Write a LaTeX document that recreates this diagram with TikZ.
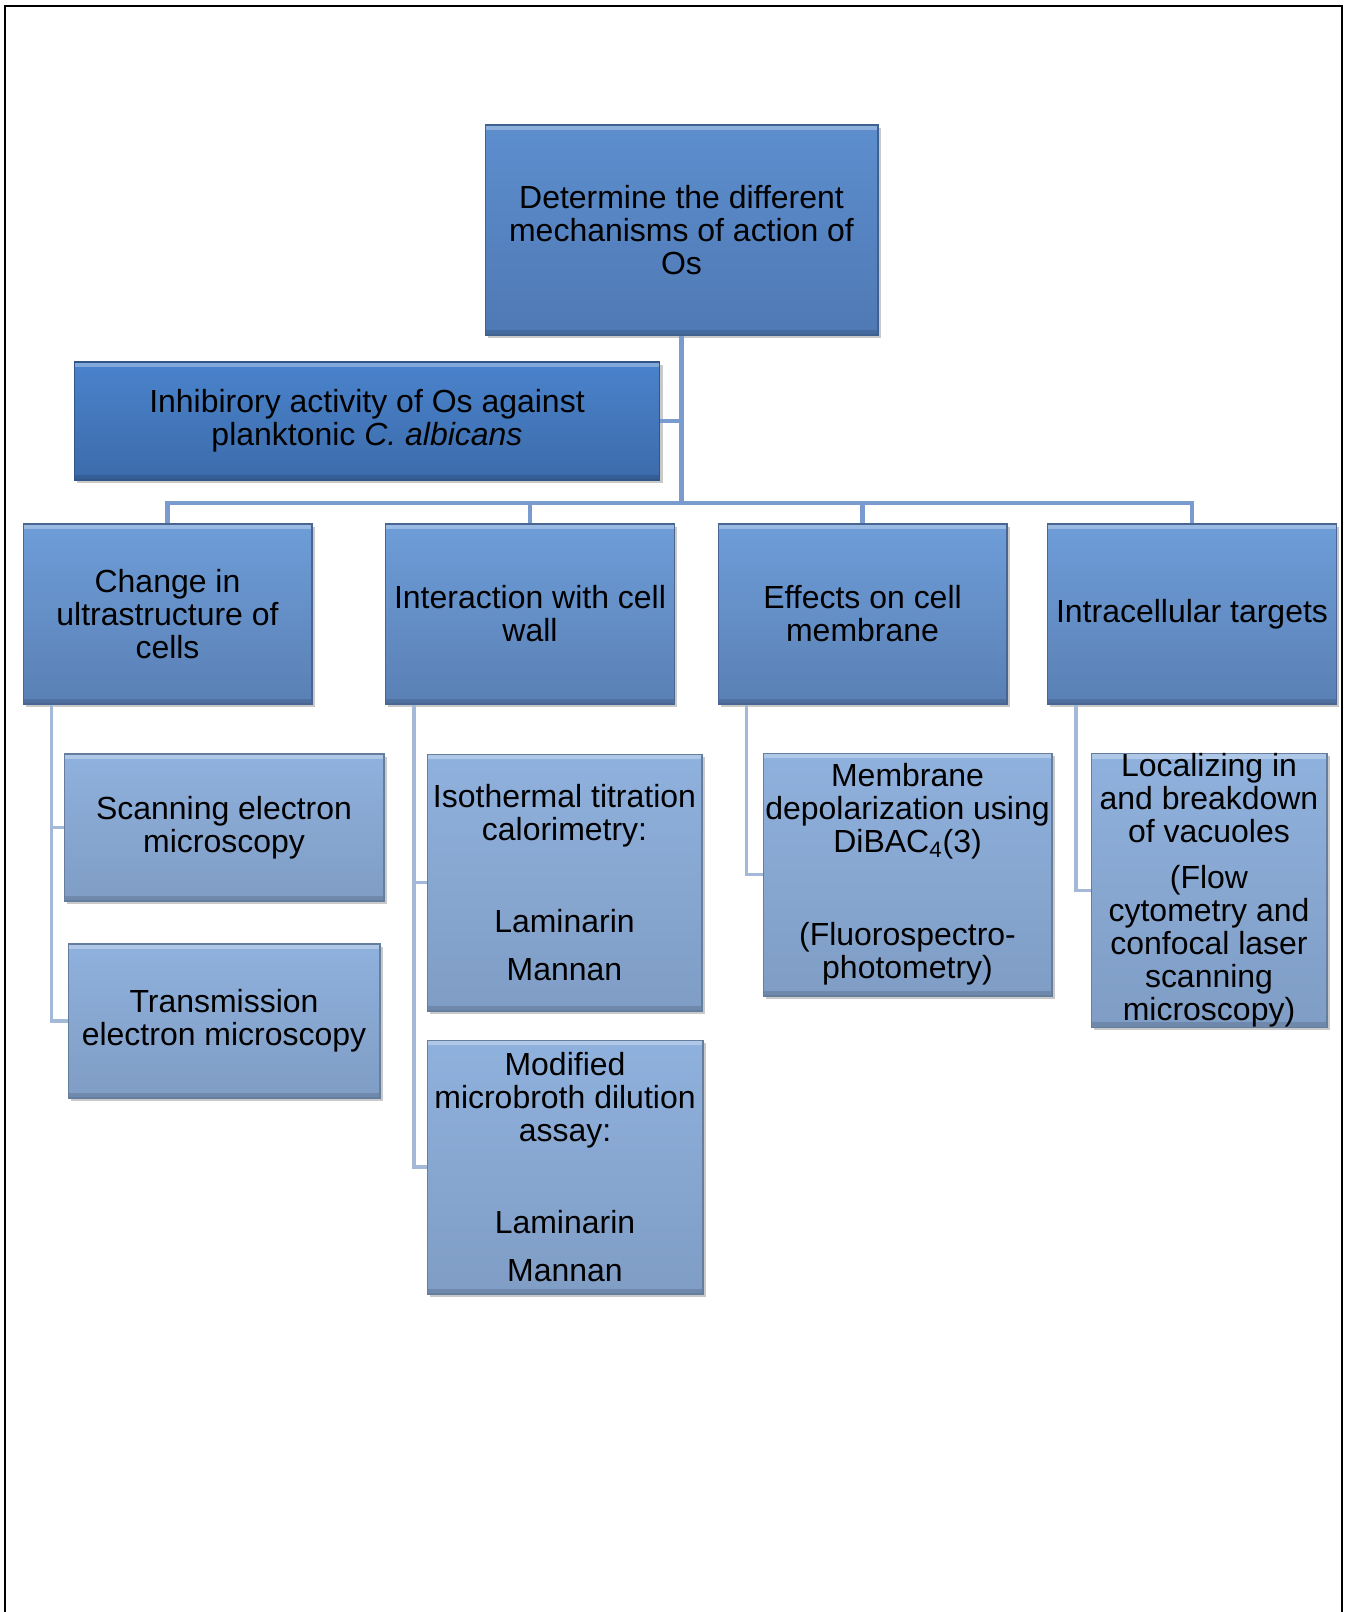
\documentclass[tikz,border=0pt]{standalone}
\usepackage{fontspec}
\setmainfont{Liberation Sans}
\usetikzlibrary{shadows}

\definecolor{rootTop}{RGB}{93,142,206}
\definecolor{rootBot}{RGB}{79,121,180}
\definecolor{inhTop}{RGB}{74,131,204}
\definecolor{inhBot}{RGB}{60,107,170}
\definecolor{midTop}{RGB}{110,157,216}
\definecolor{midBot}{RGB}{90,128,181}
\definecolor{lowTop}{RGB}{143,177,221}
\definecolor{lowBot}{RGB}{127,157,197}
\definecolor{linkCol}{RGB}{122,155,205}
\definecolor{railCol}{RGB}{164,184,216}

\tikzset{
  bevelbox/.style 2 args={draw=#2!80!black, line width=0.6pt, top color=#1, bottom color=#2,
    align=center, inner xsep=1pt, inner ysep=0pt,
    font=\fontsize{18.2}{18.8}\selectfont,
    drop shadow={shadow xshift=1.5pt, shadow yshift=-1.5pt, opacity=0.3, fill=black!70},
    path picture={
      \fill[white, opacity=0.3] (path picture bounding box.north west) rectangle ([yshift=-3pt]path picture bounding box.north east);
      \fill[black, opacity=0.12] (path picture bounding box.south west) rectangle ([yshift=3pt]path picture bounding box.south east);
    }},
  rootbox/.style={bevelbox={rootTop}{rootBot}},
  inhbox/.style={bevelbox={inhTop}{inhBot}},
  topicbox/.style={bevelbox={midTop}{midBot}, minimum width=5.78cm, minimum height=3.6cm},
  methodbox/.style={bevelbox={lowTop}{lowBot}},
  link/.style={draw=linkCol, line width=2.8pt},
  rail/.style={draw=railCol, line width=2.2pt}
}

\begin{document}
\begin{tikzpicture}[x=0.02cm, y=-0.02cm]
  \useasboundingbox (0,0) rectangle (1351,1612);

  % Rahmen (unten offen)
  \draw[line width=1.2pt] (5,1612) -- (5,6) -- (1342,6) -- (1342,1612);

  % Ziel und Vorversuch
  \node[rootbox, minimum width=7.86cm, minimum height=4.2cm] (root) at (681.5,230)
    {Determine the different\\ mechanisms of action of\\ Os};
  \node[inhbox, minimum width=11.72cm, minimum height=2.36cm] (inhib) at (367,421)
    {Inhibirory activity of Os against\\ planktonic \textit{C. albicans}};

  % Themen
  \foreach \n/\x/\t in {change/167.5/{Change in\\ ultrastructure of\\ cells},
                        wall/530/{Interaction with cell\\ wall},
                        memb/862.5/{Effects on cell\\ membrane},
                        intra/1192/{Intracellular targets}} {
    \node[topicbox] (\n) at (\x,614) {\t};
  }

  % Methoden
  \node[methodbox, minimum width=6.4cm, minimum height=2.94cm] (sem) at (224,827.5)
    {Scanning electron\\ microscopy};
  \node[methodbox, minimum width=6.24cm, minimum height=3.08cm] (tem) at (224,1021)
    {Transmission\\ electron microscopy};
  \node[methodbox, minimum width=5.5cm, minimum height=5.14cm] (itc) at (564.5,882.5)
    {Isothermal titration\\ calorimetry:\\[33.6pt] Laminarin\\[8pt] Mannan};
  \node[methodbox, minimum width=5.52cm, minimum height=5.08cm] (mmd) at (565,1167)
    {Modified\\ microbroth dilution\\ assay:\\[33.6pt] Laminarin\\[8pt] Mannan};
  \node[methodbox, minimum width=5.78cm, minimum height=4.86cm] (depol) at (907.5,874.5)
    {Membrane\\ depolarization using\\ DiBAC\textsubscript{4}(3)\\[34pt] (Fluorospectro-\\ photometry)};
  \node[methodbox, minimum width=4.72cm, minimum height=5.38cm] (vacu) at (1209,890.5)
    {Localizing in\\ and breakdown\\ of vacuoles\\[7.4pt] (Flow\\ cytometry and\\ confocal laser\\ scanning\\ microscopy)};

  % Verbindungen
  \coordinate (bus) at (681.5,503);
  \draw[link] (root.south) -- (bus);
  \draw[link] (inhib.east) -- (inhib.east -| bus);
  \foreach \n in {change, wall, memb, intra}
    \draw[link] (bus) -| (\n.north);

  \foreach \p/\c in {change/sem, change/tem, wall/itc, wall/mmd, memb/depol, intra/vacu}
    \draw[rail] ([xshift=0.58cm]\p.south west) |- (\c.west);
\end{tikzpicture}
\end{document}
